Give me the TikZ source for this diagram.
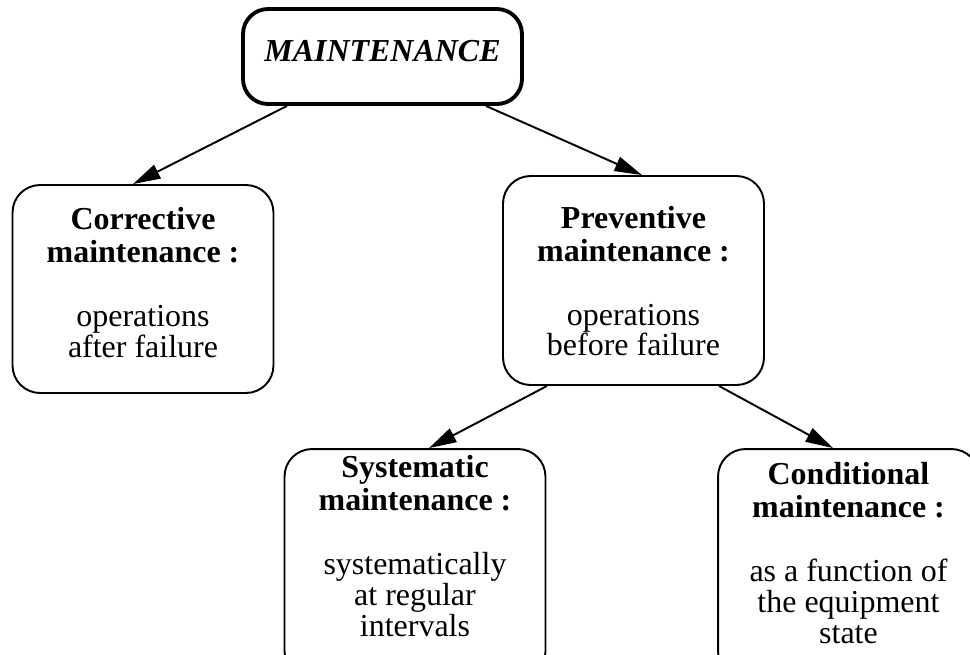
\documentclass[tikz,border=0pt]{standalone}
\usepackage{fontspec}
\setmainfont{Liberation Serif}
\usetikzlibrary{arrows.meta}
\newcommand\boxsize{\fontsize{18.2pt}{17.6pt}\selectfont}
\tikzset{
  rootbox/.style={draw,rounded corners=0.5cm,line width=2.2pt,minimum width=5.58cm,minimum height=1.9cm,text depth=0.24cm,font=\boxsize\bfseries\itshape},
  kindbox/.style={draw,rounded corners=0.55cm,line width=1.1pt,minimum width=5.22cm,align=center,text depth=0cm},
  leafbox/.style={kindbox,minimum height=4.6cm},
  link/.style={line width=1.1pt,-{Triangle[length=0.55cm,width=0.3cm]}}
}
\begin{document}
\begin{tikzpicture}[x=0.02cm,y=-0.02cm,font=\boxsize]
  \useasboundingbox (0,0) rectangle (970,654);
  \node[rootbox] (main) at (382.5,56.5) {MAINTENANCE};
  \node[kindbox,minimum height=4.16cm,text height=2.72cm] (corr) at (143,289) {\textbf{Corrective}\\[1.1pt]\textbf{maintenance :}\\[18.8pt]operations\\after failure};
  \node[kindbox,minimum height=4.18cm,text height=3.02cm] (prev) at (633.5,280.5) {\textbf{Preventive}\\[1.1pt]\textbf{maintenance :}\\[18.8pt]operations\\before failure};
  \node[leafbox,text height=2.88cm] (sys) at (415,564) {\textbf{Systematic}\\[1.1pt]\textbf{maintenance :}\\[18.8pt]systematically\\at regular\\intervals};
  \node[leafbox,text height=3.16cm] (cond) at (848.5,564) {\textbf{Conditional}\\[1.1pt]\textbf{maintenance :}\\[18.8pt]as a function of\\the equipment\\state};
  \draw[link] ([xshift=-1.91cm]main.south) -- ([xshift=-0.2cm]corr.north);
  \draw[link] ([xshift=2.07cm]main.south) -- ([xshift=0.17cm]prev.north);
  \draw[link] ([xshift=-1.73cm]prev.south) -- ([xshift=0.28cm]sys.north);
  \draw[link] ([xshift=1.71cm]prev.south) -- ([xshift=-0.31cm]cond.north);
\end{tikzpicture}
\end{document}
